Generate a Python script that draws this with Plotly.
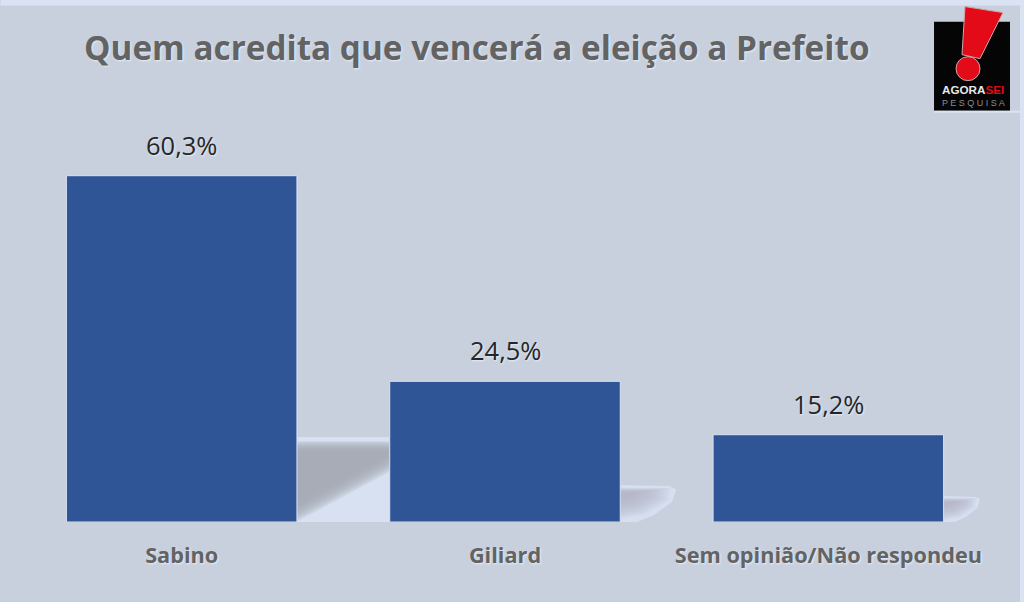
import plotly.graph_objects as go

categories = ["Sabino", "Giliard", "Sem opinião/Não respondeu"]
values = [60.3, 24.5, 15.2]
labels = ["60,3%", "24,5%", "15,2%"]
title_text = "Quem acredita que vencerá a eleição a Prefeito"

W, H = 1024, 602
L, R, T, B = 19.5, 990, 120.3, 522
BG = "#c8d0dd"
LIGHT = "#dae3f3"
BLUE = "#2f5597"
GREY = "#636363"
FONT = "Open Sans"
SHADOW = "1px 1px 2px #e6edf8"

def px(x):
    return (x - L) / (R - L)

def py(y):
    return (B - y) / (B - T)

def poly(pts, fill, opacity=1.0, layer="below", line=None, width=0):
    d = "M " + " L ".join(f"{px(x):.5f},{py(y):.5f}" for x, y in pts) + " Z"
    return dict(type="path", xref="paper", yref="paper", path=d, fillcolor=fill, opacity=opacity,
                layer=layer, line=dict(color=line or fill, width=width))

def soft_shadow(x0, top, wid, hgt):
    out = [poly([(x0, top), (x0 + wid * 0.87, top + 1), (x0 + wid, top + hgt * 0.12),
                 (x0 + wid * 0.93, top + hgt * 0.45), (x0 + wid * 0.6, top + hgt * 0.82),
                 (x0 + wid * 0.3, top + hgt), (x0, top + hgt)], "#d5dff0")]
    steps = 12
    for i in range(steps):
        s = 0.97 - 0.06 * i
        yt = top + hgt * 0.08
        h = hgt * 0.92
        out.append(poly([(x0, yt + i * 0.4), (x0 + wid * 0.92 * s, yt + i * 0.4),
                         (x0 + wid * 0.88 * s, yt + h * 0.4 * s),
                         (x0 + wid * 0.45 * s, yt + h * 0.8 * s), (x0, yt + h * 0.95 * s)], "#aeb3be", 0.13))
    return out

shapes = []
# window strips
shapes.append(poly([(0, 0), (W, 0), (W, 6), (0, 6)], LIGHT))
shapes.append(poly([(1020, 0), (W, 0), (W, H), (1020, H)], LIGHT))

# shadow of first bar
shapes.append(poly([(296, 437), (389, 437), (389, 522), (296, 522)], "#d8e1f1"))
for i in range(12):
    shapes.append(poly([(296, 441 + i), (389, 441 + i), (389, 472 - i * 1.7), (296, 522 - i * 1.7)], "#a5aab5", 0.2))

# shadows of second and third bars
shapes += soft_shadow(620, 485, 56, 37)
shapes += soft_shadow(944, 496, 36, 26)

# logo
shapes.append(poly([(934, 22), (1010, 22), (1010, 111), (934, 111)], "#050505", layer="above"))
shapes.append(poly([(934, 111), (1020, 111), (1020, 113), (934, 113)], LIGHT, layer="above"))
shapes.append(poly([(965, 7), (1003, 13), (980, 59), (962, 55)], "#e30b17", layer="above", line="#c9a9a9", width=1))
shapes.append(dict(type="circle", xref="paper", yref="paper", x0=px(956), x1=px(980), y0=py(81), y1=py(57),
                   fillcolor="#e30b17", line=dict(color="#c9a9a9", width=1), layer="above"))

annotations = [
    dict(text=title_text, xref="paper", yref="paper", x=px(477), y=py(47), xanchor="center", yanchor="middle",
         showarrow=False, font=dict(family=FONT, size=33.3, color=GREY, weight="bold", shadow=SHADOW)),
    dict(text='AGORA<span style="color:#e30b17">SEI</span>', xref="paper", yref="paper", x=px(973), y=py(90),
         xanchor="center", yanchor="middle", showarrow=False,
         font=dict(family="Liberation Sans", size=11.7, color="#e8e8e8", weight="bold")),
    dict(text="P E S Q U I S A", xref="paper", yref="paper", x=px(973), y=py(103), xanchor="center", yanchor="middle",
         showarrow=False, font=dict(family="Liberation Sans", size=9, color="#8c8c8c")),
]
for c, v, t in zip(categories, values, labels):
    annotations.append(dict(text=t, x=c, y=v, xref="x", yref="y", yanchor="middle", yshift=31, showarrow=False,
                            font=dict(family=FONT, size=25.5, color="#262626", shadow=SHADOW)))

fig = go.Figure(go.Bar(
    x=categories, y=values, cliponaxis=False, hoverinfo="skip",
    marker=dict(color=BLUE, line=dict(color=LIGHT, width=1)),
))
fig.update_layout(
    width=W, height=H, autosize=False, paper_bgcolor=BG, plot_bgcolor="rgba(0,0,0,0)",
    margin=dict(l=L, r=W - R, t=T, b=H - B, pad=0), bargap=0.287, showlegend=False,
    shapes=shapes, annotations=annotations,
    xaxis=dict(showgrid=False, zeroline=False, showline=False, ticks="outside", ticklen=14, tickcolor="rgba(0,0,0,0)",
               automargin=False, tickangle=0,
               tickfont=dict(family=FONT, size=21.7, color=GREY, weight="bold", shadow=SHADOW)),
    yaxis=dict(range=[0, 70], visible=False, automargin=False),
)
fig.write_html("out.html", config={"displayModeBar": False},
               post_script="document.body.style.margin='0';document.documentElement.style.overflow='hidden';")
